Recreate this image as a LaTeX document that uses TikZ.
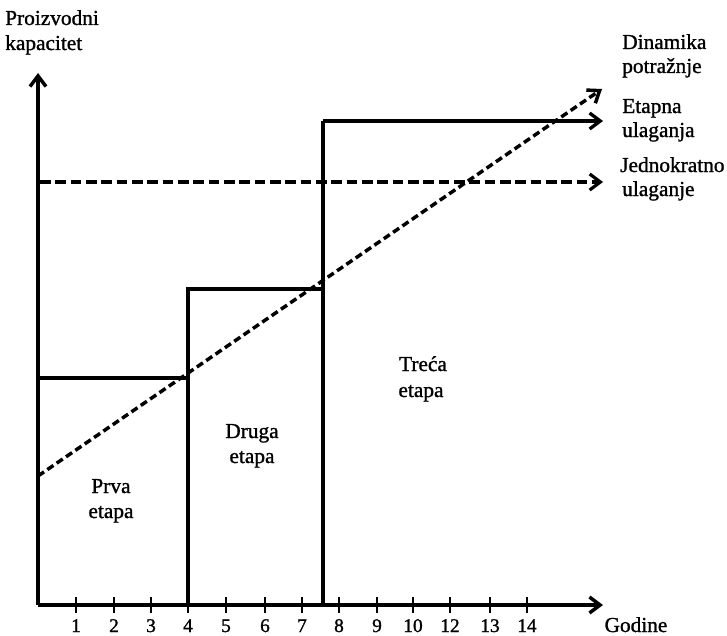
\documentclass[tikz,border=0pt]{standalone}
\usepackage{fontspec}
\setmainfont{Liberation Serif}[BoldFont=Liberation Serif, BoldFeatures={FakeBold=1.2}]
\usetikzlibrary{arrows.meta}
\begin{document}
\begin{tikzpicture}[x=0.75pt,y=-0.75pt,
  tip/.style={-{Straight Barb[length=8pt,width=12pt]}},
  axisline/.style={line width=2.6pt},
  stepline/.style={line width=2.5pt},
  dropline/.style={line width=2.5pt},
  demandline/.style={line width=2.6pt, dash pattern=on 5.5pt off 3pt},
  onceline/.style={line width=2.4pt, dash pattern=on 8pt off 3.5pt},
  tickline/.style={line width=2.2pt},
  lbl/.style={font=\fontsize{16}{18.75}\selectfont\bfseries, inner sep=0pt},
  ticklbl/.style={font=\fontsize{14.5}{16}\selectfont\bfseries, inner sep=0pt, anchor=base}]
\useasboundingbox (0,0) rectangle (727,635);

% axes
\coordinate (O) at (38,605);
\coordinate (ytop) at (38,73);
\coordinate (xend) at (603,605);
\draw[axisline,tip] (O) -- (ytop);
\draw[axisline,tip] (O) -- (xend);

% ticks and labels
\foreach \xx/\lab in {76/1,114/2,151/3,188/4,226/5,265/6,302/7,339/8,377/9,413/10,450/12,490/13,527/14}{
  \draw[tickline] (\xx,597) -- (\xx,613);
  \node[ticklbl] (t\lab) at (\xx,632) {\lab};
}

% steps
\coordinate (s1a) at (38,378);
\coordinate (s1b) at (188,378);
\coordinate (s2a) at (188,289);
\coordinate (s2b) at (323,289);
\coordinate (s3a) at (323,121);
\coordinate (s3b) at (603,121);
\coordinate (d1) at (188,605);
\coordinate (d2) at (323,605);
\draw[stepline] (s1a) -- (s1b) -- (s2a) -- (s2b) -- (s3a);
\draw[stepline,tip] (s3a) -- (s3b);
\draw[dropline] (s1b) -- (d1);
\draw[dropline] (s2b) -- (d2);

% one-time investment
\coordinate (h1) at (40,182);
\coordinate (h2) at (603,182);
\draw[onceline,tip] (h1) -- (h2);

% demand
\coordinate (dm1) at (38,476);
\coordinate (dm2) at (602,89);
\draw[demandline,tip] (dm1) -- (dm2);

% labels
\node[lbl,anchor=base west] (yl1) at (5,25) {Proizvodni};
\node[lbl,anchor=base west] (yl2) at (5,50) {kapacitet};
\node[lbl,anchor=base west] (r1) at (622,49) {Dinamika};
\node[lbl,anchor=base west] (r2) at (622,73) {potražnje};
\node[lbl,anchor=base west] (r3) at (622,113) {Etapna};
\node[lbl,anchor=base west] (r4) at (622,137) {ulaganja};
\node[lbl,anchor=base west] (r5) at (620,172) {Jednokratno};
\node[lbl,anchor=base west] (r6) at (622,196) {ulaganje};
\node[lbl,anchor=base] (p1) at (111,493) {Prva};
\node[lbl,anchor=base] (p2) at (111,518) {etapa};
\node[lbl,anchor=base] (q1) at (252,438) {Druga};
\node[lbl,anchor=base] (q2) at (252,463) {etapa};
\node[lbl,anchor=base] (w1) at (423,371) {Treća};
\node[lbl,anchor=base] (w2) at (421,397) {etapa};
\node[lbl,anchor=base] (g) at (636,632) {Godine};
\end{tikzpicture}
\end{document}
